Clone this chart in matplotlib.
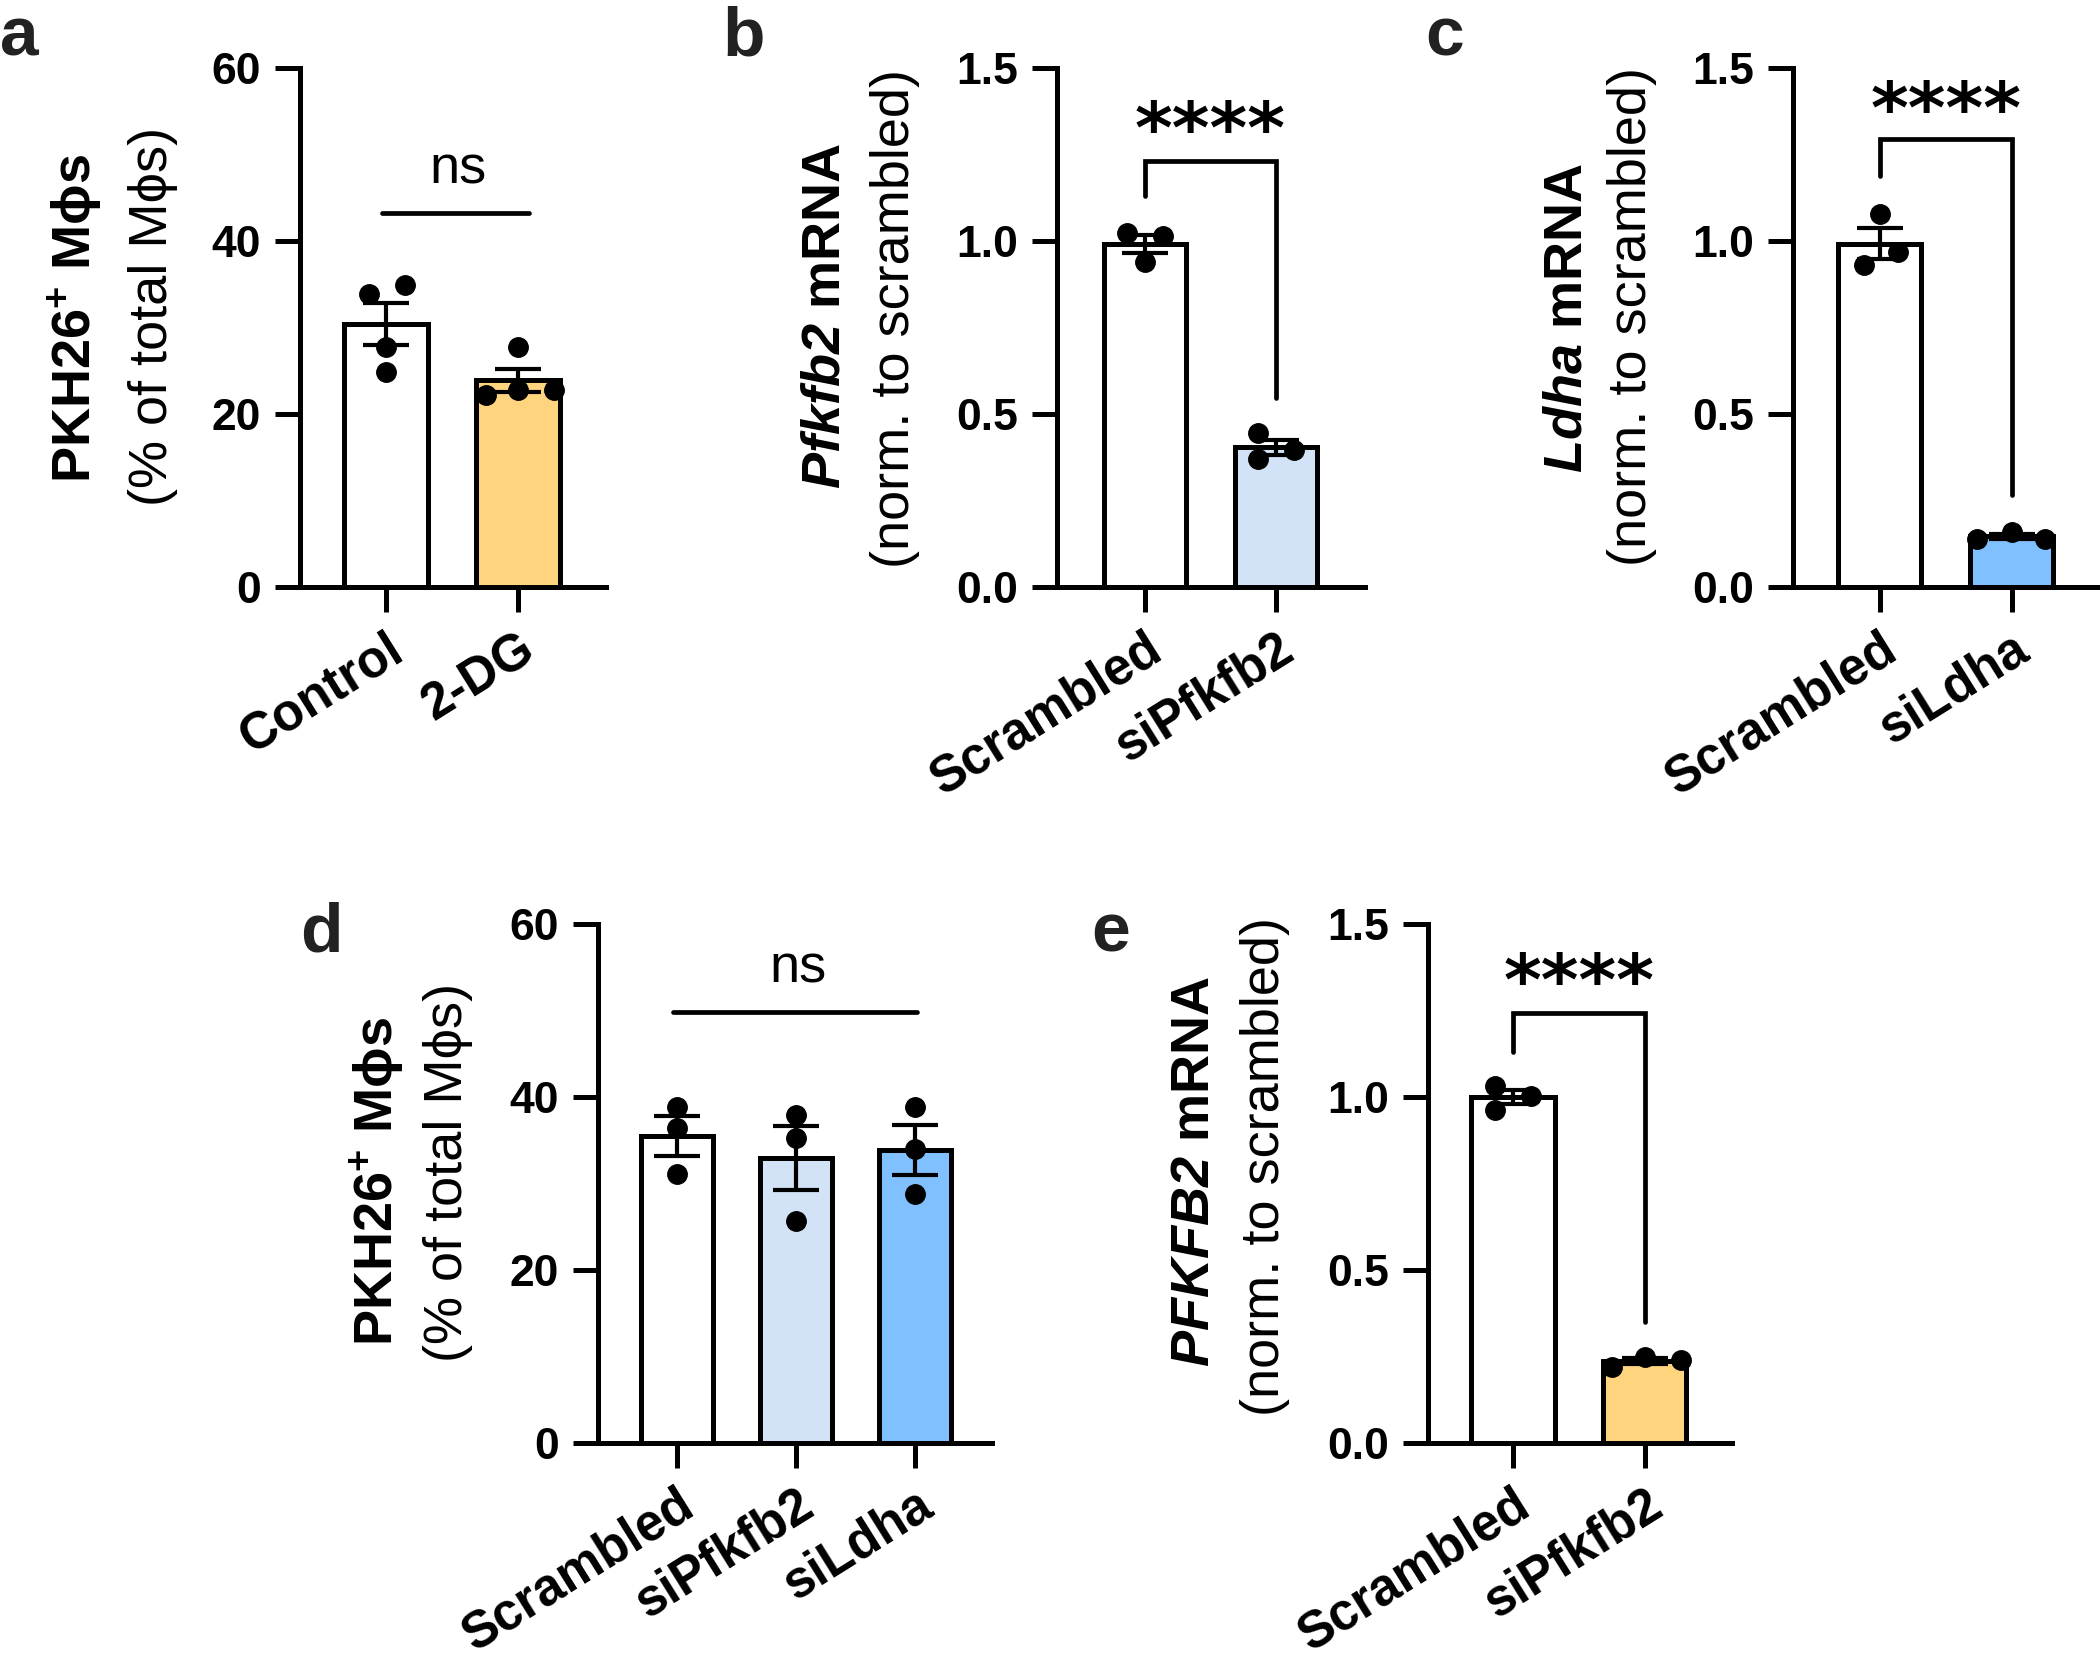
import numpy as np
import matplotlib
matplotlib.use("Agg")
import matplotlib.pyplot as plt
from matplotlib.transforms import ScaledTranslation

plt.rcParams['font.family'] = ['Liberation Sans', 'DejaVu Sans']
plt.rcParams['mathtext.fontset'] = 'custom'
plt.rcParams['mathtext.rm'] = 'Liberation Sans'
plt.rcParams['mathtext.it'] = 'Liberation Sans:italic'
plt.rcParams['mathtext.bf'] = 'Liberation Sans:bold'
plt.rcParams['mathtext.bfit'] = 'Liberation Sans:bold:italic'

# ---------------- data ----------------
a_groups = ["Control", "2-DG"]
a_values = [[33.9, 34.9, 27.8, 24.9], [27.8, 22.2, 22.8, 22.8]]
a_jitter = [[-0.13, 0.14, 0.0, 0.0], [0.0, -0.24, 0.0, 0.27]]

b_groups = ["Scrambled", "siPfkfb2"]
b_values = [[1.022, 1.015, 0.94], [0.444, 0.397, 0.37]]
b_jitter = [[-0.14, 0.14, 0.0], [-0.14, 0.14, -0.14]]

c_groups = ["Scrambled", "siLdha"]
c_values = [[1.079, 0.968, 0.931], [0.140, 0.158, 0.140]]
c_jitter = [[0.0, 0.14, -0.12], [-0.26, 0.0, 0.25]]

d_groups = ["Scrambled", "siPfkfb2", "siLdha"]
d_values = [[38.9, 36.4, 31.1], [37.9, 35.3, 25.7], [38.9, 34.0, 28.8]]
d_jitter = [[0.0, 0.0, 0.0], [0.0, 0.0, 0.0], [0.0, 0.0, 0.0]]

e_groups = ["Scrambled", "siPfkfb2"]
e_values = [[1.032, 1.003, 0.963], [0.219, 0.248, 0.240]]
e_jitter = [[-0.14, 0.14, -0.14], [-0.25, 0.0, 0.27]]

pct_ticks = [0, 20, 40, 60]
pct_ticklabels = ["0", "20", "40", "60"]
rel_ticks = [0.0, 0.5, 1.0, 1.5]
rel_ticklabels = ["0.0", "0.5", "1.0", "1.5"]

WHITE = "#FFFFFF"
YELLOW = "#FFD47F"
LIGHTBLUE = "#D2E3F7"
BLUE = "#80C0FF"

W, H = 2100, 1659
fig = plt.figure(figsize=(W / 100, H / 100), dpi=100)


def rect(l, r, t, b):
    return [l / W, 1 - b / H, (r - l) / W, (b - t) / H]


def fx(px):
    return px / W


def fy(py):
    return 1 - py / H


LW = 3.6


def panel(r, groups, values, jitter, colors, xlim, ylim, ticks, ticklabels, width):
    ax = fig.add_axes(r)
    x = np.arange(len(groups))
    means = [np.mean(v) for v in values]
    sems = [np.std(v, ddof=1) / np.sqrt(len(v)) for v in values]
    ax.bar(x, means, width=width, color=colors, edgecolor="black",
           linewidth=LW, zorder=2)
    ax.errorbar(x, means, yerr=sems, fmt="none", ecolor="black",
                elinewidth=3, capsize=16.5, capthick=3, zorder=3)
    for i, v in enumerate(values):
        ax.plot(x[i] + np.array(jitter[i]), v, "o", color="black", ms=14,
                zorder=4, clip_on=False)
    ax.set_xlim(*xlim)
    ax.set_ylim(*ylim)
    ax.set_yticks(ticks)
    ax.set_yticklabels(ticklabels, fontsize=32, fontweight="bold")
    ax.set_xticks(x)
    ax.set_xticklabels(groups, fontsize=37, fontweight="bold", rotation=32,
                       ha="right", va="top", rotation_mode="anchor")
    shift = ScaledTranslation(4 / 72, 2 / 72, fig.dpi_scale_trans)
    for lab in ax.get_xticklabels():
        lab.set_transform(lab.get_transform() + shift)
    for s in ["top", "right"]:
        ax.spines[s].set_visible(False)
    for s in ["left", "bottom"]:
        ax.spines[s].set_linewidth(LW)
    ax.tick_params(axis="both", length=18, width=LW, direction="out")
    ax.tick_params(axis="y", pad=10)
    ax.tick_params(axis="x", pad=9)
    ax.patch.set_alpha(0)
    return ax


def bracket(ax, top, left_bottom, right_bottom, star_y, x0=0, x1=1):
    ax.plot([x0, x0, x1, x1], [left_bottom, top, top, right_bottom],
            color="black", lw=3.4, solid_capstyle="round",
            solid_joinstyle="miter", clip_on=False, zorder=5)
    ax.annotate("****", xy=((x0 + x1) / 2, star_y), xytext=(0, -24),
                textcoords="offset points", ha="center", va="baseline",
                fontsize=52, fontweight="bold", family="DejaVu Sans",
                annotation_clip=False)


def ns_line(ax, y, text_y, x0, x1):
    ax.plot([x0, x1], [y, y], color="black", lw=3.4,
            solid_capstyle="round", clip_on=False, zorder=5)
    ax.annotate("ns", xy=((x0 + x1) / 2 + 0.02, text_y), xytext=(0, -10),
                textcoords="offset points", ha="center", va="baseline",
                fontsize=39, annotation_clip=False)


# panel a
ax_a = panel(rect(300, 606, 68, 587), a_groups, a_values, a_jitter,
             [WHITE, YELLOW], (-0.652, 1.667), (0, 60), pct_ticks,
             pct_ticklabels, 0.63)
ns_line(ax_a, 43.2, 48.2, -0.03, 1.08)

# panel b
ax_b = panel(rect(1057, 1365, 68, 587), b_groups, b_values, b_jitter,
             [WHITE, LIGHTBLUE], (-0.672, 1.68), (0, 1.5), rel_ticks,
             rel_ticklabels, 0.63)
bracket(ax_b, 1.231, 1.13, 0.546, 1.35)

# panel c
ax_c = panel(rect(1793, 2100, 68, 587), c_groups, c_values, c_jitter,
             [WHITE, BLUE], (-0.66, 1.67), (0, 1.5), rel_ticks,
             rel_ticklabels, 0.63)
bracket(ax_c, 1.295, 1.188, 0.266, 1.409)

# panel d
ax_d = panel(rect(598, 992, 924, 1443), d_groups, d_values, d_jitter,
             [WHITE, LIGHTBLUE, BLUE], (-0.664, 2.647), (0, 60), pct_ticks,
             pct_ticklabels, 0.6)
ns_line(ax_d, 49.8, 54.8, -0.03, 2.02)

# panel e
ax_e = panel(rect(1428, 1732, 924, 1443), e_groups, e_values, e_jitter,
             [WHITE, YELLOW], (-0.644, 1.66), (0, 1.5), rel_ticks,
             rel_ticklabels, 0.63)
bracket(ax_e, 1.243, 1.13, 0.35, 1.361)

# y labels (two lines each)
lab1_pkh = "PKH26$^{\\mathbf{+}}$ M\u03d5s"
lab2_pkh = "(% of total M\u03d5s)"
lab2_norm = "(norm. to scrambled)"

ylabels = [
    (76, 318, lab1_pkh, "bold"), (153, 316, lab2_pkh, "normal"),
    (825, 316, "$\\mathbfit{Pfkfb2}$ mRNA", "bold"), (895, 318, lab2_norm, "normal"),
    (1568, 318, "$\\mathbfit{Ldha}$ mRNA", "bold"), (1632, 316, lab2_norm, "normal"),
    (378, 1181, lab1_pkh, "bold"), (448, 1172, lab2_pkh, "normal"),
    (1195, 1171, "$\\mathbfit{PFKFB2}$ mRNA", "bold"), (1265, 1167, lab2_norm, "normal"),
]
for xp, yp, s, wgt in ylabels:
    fig.text(fx(xp), fy(yp), s, rotation=90, ha="center", va="center",
             fontsize=39, fontweight=wgt)

# panel letters
for xp, yp, s in [(0, 56, "a"), (722, 56, "b"), (1425, 56, "c"),
                  (300, 952, "d"), (1091, 952, "e")]:
    fig.text(fx(xp), fy(yp), s, ha="left", va="baseline", fontsize=50,
             fontweight="bold", color="#222222")

fig.savefig("out.png", dpi=100, facecolor="white")
